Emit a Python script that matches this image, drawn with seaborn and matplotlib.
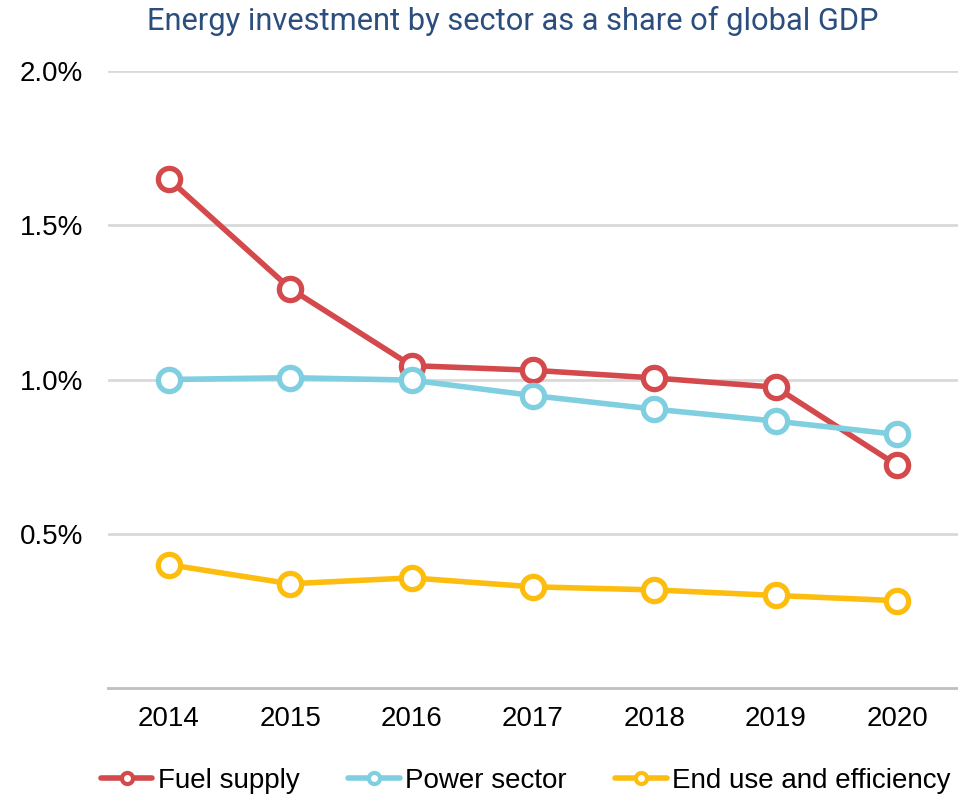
import pandas as pd
import numpy as np
import matplotlib.pyplot as plt
import seaborn as sns
from matplotlib.ticker import FixedLocator

# Data (% of global GDP)
years = [2014, 2015, 2016, 2017, 2018, 2019, 2020]
fuel_supply = [1.65, 1.295, 1.045, 1.03, 1.005, 0.975, 0.722]
power_sector = [1.0, 1.006, 0.998, 0.948, 0.904, 0.865, 0.822]
end_use = [0.40, 0.338, 0.357, 0.328, 0.318, 0.300, 0.283]

series_names = ['Fuel supply', 'Power sector', 'End use and efficiency']
colors = ['#d4494b', '#7fcfe1', '#fdbd0f']

df = pd.DataFrame({
    'Year': years * 3,
    'Share': fuel_supply + power_sector + end_use,
    'Sector': [n for n in series_names for _ in years],
})

sns.set_style('white')
plt.rcParams['font.family'] = ['Liberation Sans', 'DejaVu Sans']
plt.rcParams['text.color'] = 'black'
plt.rcParams['xtick.labelcolor'] = 'black'
plt.rcParams['ytick.labelcolor'] = 'black'

fig = plt.figure(figsize=(9.58, 8), dpi=100)
ax = fig.add_axes([0.1127, 0.14, 0.8873, 0.7712])

sns.lineplot(data=df, x='Year', y='Share', hue='Sector', palette=colors,
             hue_order=series_names, marker='o', markersize=16,
             markerfacecolor='white', markeredgewidth=3.8, linewidth=4,
             ax=ax, legend=False, zorder=3)
# marker edge colours follow the line colours
for line, c in zip(ax.lines, colors):
    line.set_markeredgecolor(c)

ax.set_xlim(2013.5, 2020.5)
ax.set_ylim(0, 2.0)
ax.set_yticks([0.5, 1.0, 1.5, 2.0])
ax.set_yticklabels(['0.5%', '1.0%', '1.5%', '2.0%'])
ax.set_xticks(years)
ax.set_xticklabels([str(y) for y in years])
ax.xaxis.set_minor_locator(FixedLocator(np.arange(2013.5, 2021, 1)))
ax.tick_params(axis='x', which='major', length=0, pad=13, labelsize=20, labelcolor='black')
ax.tick_params(axis='x', which='minor', length=7, width=1.5, color='#bfbfbf', direction='out')
ax.tick_params(axis='y', length=0, pad=18, labelsize=20, labelcolor='black')
ax.set_xlabel('')
ax.set_ylabel('')
ax.grid(axis='y', color='#d9d9d9', linewidth=2)
ax.grid(axis='x', visible=False)
for s in ['top', 'right', 'left']:
    ax.spines[s].set_visible(False)
ax.spines['bottom'].set_color('#bfbfbf')
ax.spines['bottom'].set_linewidth(2)

fig.text(0.535, 0.974, 'Energy investment by sector as a share of global GDP',
         ha='center', va='center', fontsize=22.2, color='#2b4e7e',
         family=['Roboto', 'DejaVu Sans'])

handles = [plt.Line2D([], [], color=c, linewidth=4, marker='o', markersize=8,
                      markerfacecolor='white', markeredgecolor=c, markeredgewidth=3)
           for c in colors]
fig.legend(handles, series_names, loc='center', bbox_to_anchor=(0.549, 0.024),
           ncol=3, frameon=False, fontsize=20, handlelength=1.85,
           handletextpad=0.2, columnspacing=1.75, borderaxespad=0,
           labelcolor='black')

fig.savefig('out.png', dpi=100)
